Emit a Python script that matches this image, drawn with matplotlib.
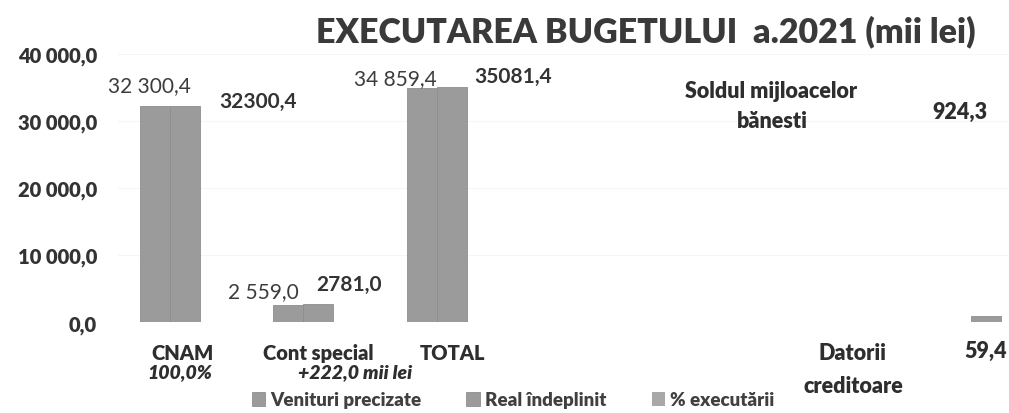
import matplotlib
matplotlib.use("Agg")
import matplotlib.pyplot as plt
import numpy as np

plt.rcParams['font.family'] = ['Lato', 'DejaVu Sans']

# ---- data ----
categories = ["CNAM", "Cont special", "TOTAL", "", "", "", ""]
venituri_precizate = [32300.4, 2559.0, 34859.4, 0, 0, 0, 0]
real_indeplinit = [32300.4, 2781.0, 35081.4, 0, 0, 0, 924.3]
pct_executarii = [100.0, 108.7, 100.6, 0, 0, 0, 0]
series_names = ["Venituri precizate", "Real îndeplinit", "% executării"]
yticks = [0, 10000, 20000, 30000, 40000]
title = "EXECUTAREA BUGETULUI  a.2021 (mii lei)"
sub_labels = ["100,0%", "+222,0 mii lei"]
note_lines = ["Soldul mijloacelor", "bănesti", "924,3", "Datorii", "creditoare", "59,4"]

HEAVY = "heavy"

W, H = 1009, 414
fig = plt.figure(figsize=(W / 100, H / 100), dpi=100)
ax = fig.add_axes([118 / W, 1 - 323.3 / H, (1009 - 118) / W, (323.3 - 55) / H])

x = np.arange(len(categories))
bw = 0.2247
bar_color = "#9b9b9b"
edge = "#8e8e8e"
b1 = ax.bar(x - bw, venituri_precizate, bw, color=bar_color, edgecolor=edge, linewidth=0.6)
b2 = ax.bar(x, real_indeplinit, bw, color=bar_color, edgecolor=edge, linewidth=0.6)
b3 = ax.bar(x + bw, pct_executarii, bw, color="#a8a8a8", linewidth=0)

ax.set_xlim(-0.5, 6.174)
ax.set_ylim(0, 40000)
ax.set_yticks(yticks)
ax.set_yticklabels([f"{v:,.1f}".replace(",", " ").replace(".", ",") for v in yticks],
                   fontsize=14.5, fontweight=HEAVY, color="#333333")
ax.tick_params(axis="y", length=0, pad=15)
ax.set_xticks([])
for s in ax.spines.values():
    s.set_visible(False)
ax.grid(axis="y", color="#f5f5f5", linewidth=0.8)
ax.set_axisbelow(True)


def fmt_sp(v):
    return f"{v:,.1f}".replace(",", " ").replace(".", ",")


def fmt_ns(v):
    return f"{v:.1f}".replace(".", ",")


lab_kw = dict(textcoords="offset pixels", ha="center", va="baseline", annotation_clip=False)
# Venituri precizate labels (regular, spaced)
offs1 = [(-5, 14.7), (-25, 8), (-26, 4.5)]
for i, (dx, dy) in enumerate(offs1):
    ax.annotate(fmt_sp(venituri_precizate[i]), (x[i] - bw, venituri_precizate[i]),
                xytext=(dx, dy), fontsize=15, color="#3c3c3c", **lab_kw)
# Real indeplinit labels (bold, no spacing)
offs2 = [(73, -1.3), (31, 13.6), (61, 5)]
for i, (dx, dy) in enumerate(offs2):
    ax.annotate(fmt_ns(real_indeplinit[i]), (x[i], real_indeplinit[i]),
                xytext=(dx, dy), fontsize=15, fontweight="bold", color="#333333", **lab_kw)

# category labels
cat_dx = [-2, 0, 1]
for i in range(3):
    ax.annotate(categories[i], (x[i], 0), xytext=(cat_dx[i], -37), fontsize=14.5,
                fontweight=HEAVY, color="#2e2e2e", **lab_kw)
sub_dx = [-5, 37]
for i in range(2):
    ax.annotate(sub_labels[i], (x[i], 0), xytext=(sub_dx[i], -55), fontsize=14,
                fontweight=HEAVY, fontstyle="italic", color="#2e2e2e", **lab_kw)

# side notes
note_pos = [(771, 98), (772, 128), (960, 119), (852, 360), (853, 393), (986, 358)]
for txt, (px, py) in zip(note_lines, note_pos):
    fig.text(px / W, 1 - py / H, txt, ha="center", va="baseline",
             fontsize=15.5, fontweight=HEAVY, color="#2e2e2e")

# title
fig.text(646 / W, 1 - 42 / H, title, ha="center", va="baseline",
         fontsize=24.5, fontweight=HEAVY, color="#3a3a3a")

# legend
leg = fig.legend([b1, b2, b3], series_names, loc="center", bbox_to_anchor=(513 / W, 1 - 401 / H),
                 ncol=3, frameon=False, handlelength=0.7, handleheight=0.7, handletextpad=0.3,
                 columnspacing=2.4, prop=dict(size=13.5, weight=HEAVY))
for t in leg.get_texts():
    t.set_color("#404040")

fig.savefig("out.png", dpi=100)
